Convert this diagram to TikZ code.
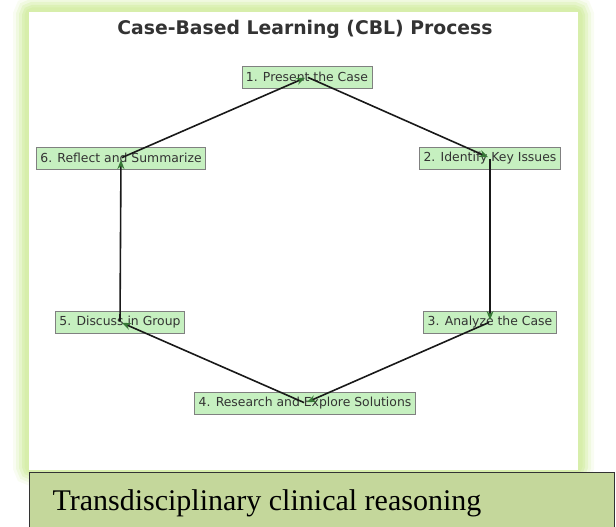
\documentclass[tikz,border=0pt]{standalone}
\usepackage{fontspec}
\setmainfont{Liberation Serif}
\setsansfont{DejaVu Sans}
\usepackage{xcolor}
\usetikzlibrary{arrows.meta,positioning}

\definecolor{glow}{RGB}{214,238,170}
\definecolor{cajaverde}{RGB}{198,240,192}
\definecolor{bordegris}{RGB}{128,128,128}
\definecolor{textogris}{RGB}{51,51,51}
\definecolor{puntaverde}{RGB}{55,120,55}
\definecolor{pie}{RGB}{196,215,155}

\begin{document}
\begin{tikzpicture}[x=1pt, y=-1pt,
  paso/.style={draw=bordegris, fill=cajaverde, line width=0.8pt,
               font=\sffamily\fontsize{12.4}{14}\selectfont, text=textogris,
               inner xsep=4pt, inner ysep=0pt, minimum height=22pt},
  flecha/.style={-{Stealth[length=9pt, width=7pt, color=puntaverde]},
                 line width=1.6pt, draw=black!90, shorten >=2pt, shorten <=1pt},
]
  \useasboundingbox (0,0) rectangle (616,527);

  % marco con brillo
  \foreach \w/\o in {32/0.15, 26/0.25, 20/0.4, 14/0.6, 9/0.9}
    \draw[glow, line width=\w pt, opacity=\o, rounded corners=4pt] (29,12) rectangle (578,470);
  \fill[white] (29,12) rectangle (578,470);

  \node[font=\sffamily\bfseries\fontsize{18.8}{22}\selectfont, text=textogris]
    (titulo) at (305,29) {Case-Based Learning (CBL) Process};

  % pasos del ciclo
  \node[paso] (presentar)  at (307,77)  {1. Present the Case};
  \node[paso] (identificar) at (490,158) {2. Identify Key Issues};
  \node[paso] (analizar)   at (490,322) {3. Analyze the Case};
  \node[paso] (investigar) at (305,403) {4. Research and Explore Solutions};
  \node[paso] (discutir)   at (120,322) {5. Discuss in Group};
  \node[paso] (reflexionar) at (121,158) {6. Reflect and Summarize};

  \draw[flecha] (presentar.center)   -- (identificar.center);
  \draw[flecha] (identificar.center) -- (analizar.center);
  \draw[flecha] (analizar.center)    -- (investigar.center);
  \draw[flecha] (investigar.center)  -- (discutir.center);
  \draw[flecha] (discutir.center)    -- (reflexionar.center);
  \draw[flecha] (reflexionar.center) -- (presentar.center);

  % pie
  \node[draw=black!80, fill=pie, line width=0.8pt, anchor=north west,
        minimum width=585pt, minimum height=60pt, inner sep=0pt] (piecaja) at (28.5,472) {};
  \node[anchor=base west, font=\fontsize{30}{34}\selectfont, text=black]
    (pietexto) at (49,510) {Transdisciplinary clinical reasoning};
\end{tikzpicture}
\end{document}
